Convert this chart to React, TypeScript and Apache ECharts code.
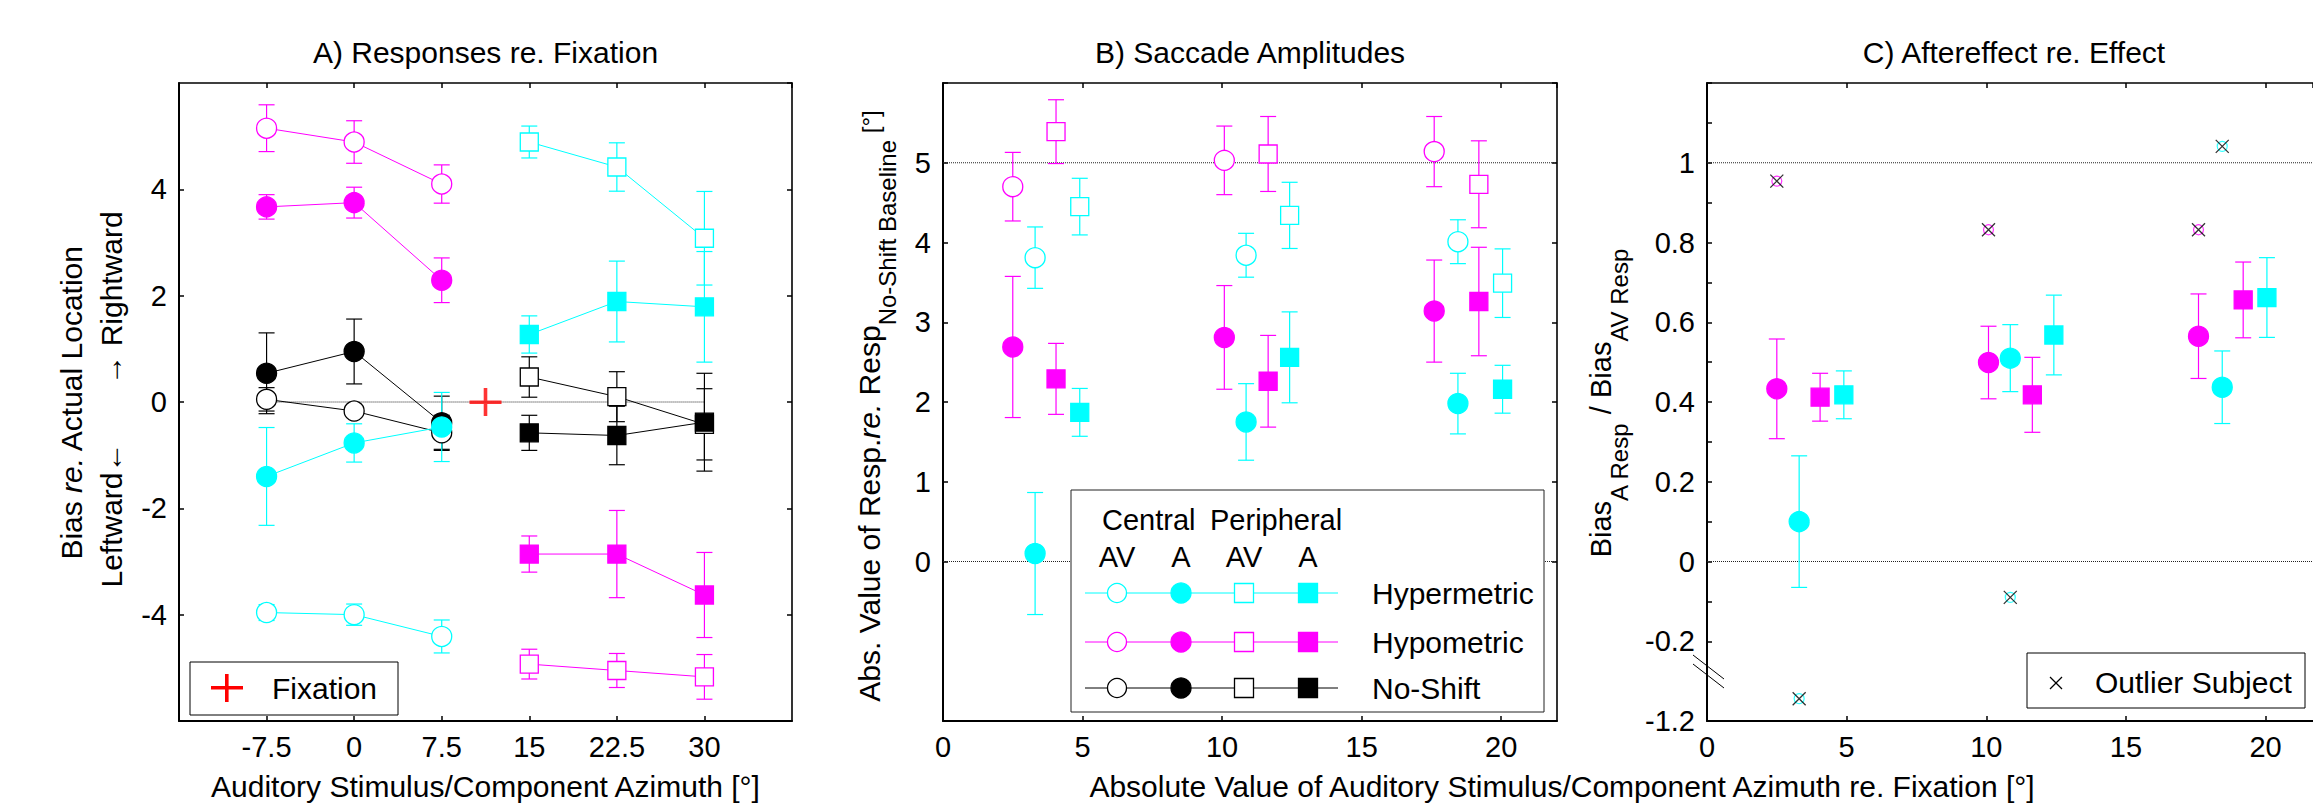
import React, { useEffect, useRef } from "react";
import * as echarts from "echarts";

const FONT = '"Liberation Sans", Arial, sans-serif';
const CYAN = "#00ffff";
const MAGENTA = "#ff00ff";
const BLACK = "#000000";
const RED = "#ff0000";

// ---------- Panel A: responses re. fixation ----------
const centralAz = [-7.5, 0, 7.5];
const peripheralAz = [15, 22.5, 30];
const fixationPoint = [11.25, 0];
const zeroLineA = [-7.5, 30];

const noShiftAVCentral = [0.05, -0.17, -0.58];
const noShiftAVCentralErr = [0.22, 0.1, 0.33];
const noShiftACentral = [0.54, 0.95, -0.39];
const noShiftACentralErr = [0.76, 0.61, 0.5];
const noShiftAVPeriph = [0.47, 0.1, -0.42];
const noShiftAVPeriphErr = [0.38, 0.47, 0.67];
const noShiftAPeriph = [-0.58, -0.63, -0.38];
const noShiftAPeriphErr = [0.33, 0.55, 0.92];

const hyperAVCentral = [-3.96, -4.0, -4.41];
const hyperAVCentralErr = [0.15, 0.2, 0.31];
const hyperACentral = [-1.4, -0.77, -0.47];
const hyperACentralErr = [0.92, 0.36, 0.65];
const hyperAVPeriph = [4.89, 4.42, 3.08];
const hyperAVPeriphErr = [0.3, 0.455, 0.88];
const hyperAPeriph = [1.27, 1.89, 1.79];
const hyperAPeriphErr = [0.35, 0.76, 1.04];

const hypoAVCentral = [5.15, 4.89, 4.1];
const hypoAVCentralErr = [0.44, 0.4, 0.36];
const hypoACentral = [3.67, 3.75, 2.29];
const hypoACentralErr = [0.23, 0.29, 0.42];
const hypoAVPeriph = [-4.93, -5.05, -5.17];
const hypoAVPeriphErr = [0.28, 0.32, 0.42];
const hypoAPeriph = [-2.86, -2.86, -3.63];
const hypoAPeriphErr = [0.34, 0.82, 0.8];

// ---------- Panels B & C: x positions (abs. azimuth re. fixation) ----------
const hypoCentralX = [2.5, 10.08, 17.6];
const hyperCentralX = [3.3, 10.86, 18.45];
const hypoPeriphX = [4.05, 11.65, 19.2];
const hyperPeriphX = [4.9, 12.42, 20.05];

// ---------- Panel B: saccade amplitudes ----------
const hypoAVCentralAmp = [4.7, 5.03, 5.14];
const hypoAVCentralAmpErr = [0.43, 0.43, 0.44];
const hypoACentralAmp = [2.69, 2.81, 3.14];
const hypoACentralAmpErr = [0.885, 0.65, 0.64];
const hyperAVCentralAmp = [3.81, 3.84, 4.01];
const hyperAVCentralAmpErr = [0.385, 0.275, 0.275];
const hyperACentralAmp = [0.1, 1.75, 1.98];
const hyperACentralAmpErr = [0.765, 0.48, 0.38];
const hypoAVPeriphAmp = [5.39, 5.11, 4.73];
const hypoAVPeriphAmpErr = [0.4, 0.47, 0.545];
const hypoAPeriphAmp = [2.29, 2.26, 3.26];
const hypoAPeriphAmpErr = [0.445, 0.575, 0.68];
const hyperAVPeriphAmp = [4.45, 4.34, 3.49];
const hyperAVPeriphAmpErr = [0.355, 0.415, 0.43];
const hyperAPeriphAmp = [1.87, 2.56, 2.16];
const hyperAPeriphAmpErr = [0.3, 0.57, 0.3];
const refLinesB = [5, 0];

// ---------- Panel C: aftereffect re. effect ----------
const hypoCentralRatio = [0.433, 0.499, 0.565];
const hypoCentralRatioErr = [0.125, 0.091, 0.106];
const hyperCentralRatio = [0.1, 0.51, 0.437];
const hyperCentralRatioErr = [0.165, 0.084, 0.091];
const hypoPeriphRatio = [0.412, 0.418, 0.656];
const hypoPeriphRatioErr = [0.06, 0.094, 0.095];
const hyperPeriphRatio = [0.418, 0.568, 0.662];
const hyperPeriphRatioErr = [0.06, 0.1, 0.1];
const hypoOutlier = [0.954, 0.832, 0.832];
const hyperOutlier = [-1.144, -0.09, 1.041];
const refLinesC = [1, 0];
// axis break: values below BREAK_AT are shifted up by BREAK_OFFSET
const BREAK_AT = -0.5;
const BREAK_OFFSET = 0.8;
const brk = (v: number) => (v < BREAK_AT ? v + BREAK_OFFSET : v);

// ---------- text labels ----------
const titleA = "A) Responses re. Fixation";
const titleB = "B) Saccade Amplitudes";
const titleC = "C) Aftereffect re. Effect";
const xNameA = "Auditory Stimulus/Component Azimuth [°]";
const xNameBC = "Absolute Value of Auditory Stimulus/Component Azimuth re. Fixation [°]";

// ---------- layout ----------
const GA = { left: 179, top: 83, width: 613, height: 638 };
const GB = { left: 943, top: 83, width: 614, height: 638 };
// panel C runs past the right edge of the picture: only 0..21.7 is visible
const GC = { left: 1707, top: 83, width: 606, height: 638 };
const C_X_MAX = 21.7;

const ctx = document.createElement("canvas").getContext("2d")!;
function tw(text: string, size: number, italic = false) {
  ctx.font = `${italic ? "italic " : ""}${size}px "Liberation Sans"`;
  return ctx.measureText(text).width;
}

function txt(x: number, y: number, text: string, size: number, align = "center", extra: any = {}) {
  return {
    type: "text",
    x,
    y,
    z: 100,
    silent: true,
    style: {
      text,
      fill: "#000",
      fontSize: size,
      fontFamily: FONT,
      fontStyle: extra.italic ? "italic" : "normal",
      align,
      textAlign: align,
      verticalAlign: "middle",
      textVerticalAlign: "middle",
    },
  };
}

type Seg = { text: string; size: number; italic?: boolean; shift?: number };
function rotatedLabel(cx: number, cy: number, segs: Seg[]) {
  const widths = segs.map((s) => tw(s.text, s.size, !!s.italic));
  const total = widths.reduce((a, b) => a + b, 0);
  let pos = -total / 2;
  const children = segs.map((s, i) => {
    const el = {
      type: "text",
      x: pos,
      y: s.shift || 0,
      style: {
        text: s.text,
        fill: "#000",
        fontSize: s.size,
        fontFamily: FONT,
        fontStyle: s.italic ? "italic" : "normal",
        align: "left",
        textAlign: "left",
        verticalAlign: "middle",
        textVerticalAlign: "middle",
      },
    };
    pos += widths[i];
    return el;
  });
  return { type: "group", x: cx, y: cy, rotation: Math.PI / 2, z: 100, silent: true, children };
}

const axisLabelStyle = { color: "#000", fontSize: 29, fontFamily: FONT };

function xAxes(gi: number, min: number, max: number, interval: number, labelOpts: any) {
  const common = {
    type: "value",
    gridIndex: gi,
    min,
    max,
    interval,
    splitLine: { show: false },
    axisLine: { show: true, onZero: false, lineStyle: { color: "#000", width: 2 } },
    axisTick: { show: true, inside: true, length: 5, lineStyle: { color: "#000", width: 1.5 } },
  };
  return [
    { ...common, position: "bottom", axisLabel: { ...axisLabelStyle, margin: 11, ...labelOpts } },
    { ...common, position: "top", axisLabel: { show: false }, axisLine: { show: true, onZero: false, lineStyle: { color: "#000", width: 1.6 } } },
  ];
}
function yAxes(gi: number, min: number, max: number, interval: number, labelOpts: any, tickOpts: any = {}, showRight = true) {
  const common = {
    type: "value",
    gridIndex: gi,
    min,
    max,
    interval,
    splitLine: { show: false },
    axisLine: { show: true, onZero: false, lineStyle: { color: "#000", width: 2 } },
    axisTick: { show: true, inside: true, length: 5, lineStyle: { color: "#000", width: 1.5 }, ...tickOpts },
  };
  return [
    { ...common, position: "left", axisLabel: { ...axisLabelStyle, margin: 12, ...labelOpts } },
    {
      ...common,
      position: "right",
      axisLabel: { show: false },
      axisLine: { show: showRight, onZero: false, lineStyle: { color: "#000", width: 1.6 } },
      axisTick: showRight ? common.axisTick : { show: false },
    },
  ];
}

function markerStyle(color: string, filled: boolean) {
  return { color: filled ? color : "#ffffff", borderColor: color, borderWidth: 1.3, opacity: 1 };
}

function lineSeries(gi: number, xs: number[], ys: number[], color: string, symbol: string, filled: boolean) {
  return {
    type: "line",
    xAxisIndex: gi * 2,
    yAxisIndex: gi * 2,
    data: xs.map((x, i) => [x, ys[i]]),
    symbol,
    symbolSize: symbol === "rect" ? 18 : 20,
    showSymbol: true,
    itemStyle: markerStyle(color, filled),
    lineStyle: { color, width: 1 },
    silent: true,
    z: 4,
  };
}

function scatterSeries(gi: number, xs: number[], ys: number[], color: string, symbol: string, filled: boolean) {
  return {
    type: "scatter",
    xAxisIndex: gi * 2,
    yAxisIndex: gi * 2,
    data: xs.map((x, i) => [x, ys[i]]),
    symbol,
    symbolSize: symbol === "rect" ? 18 : 20,
    itemStyle: markerStyle(color, filled),
    silent: true,
    z: 4,
  };
}

function errSeries(gi: number, xs: number[], ys: number[], es: number[], color: string) {
  return {
    type: "custom",
    xAxisIndex: gi * 2,
    yAxisIndex: gi * 2,
    data: xs.map((x, i) => [x, ys[i], es[i]]),
    encode: { x: 0, y: 1 },
    silent: true,
    z: 3,
    renderItem: (_p: any, api: any) => {
      const x = api.value(0);
      const y = api.value(1);
      const e = api.value(2);
      const t = api.coord([x, y + e]);
      const b = api.coord([x, y - e]);
      const hw = 8;
      const st = { stroke: color, lineWidth: 1.2 };
      return {
        type: "group",
        children: [
          { type: "line", shape: { x1: t[0], y1: t[1], x2: b[0], y2: b[1] }, style: st },
          { type: "line", shape: { x1: t[0] - hw, y1: t[1], x2: t[0] + hw, y2: t[1] }, style: st },
          { type: "line", shape: { x1: b[0] - hw, y1: b[1], x2: b[0] + hw, y2: b[1] }, style: st },
        ],
      };
    },
  };
}

function refLine(gi: number, x0: number, x1: number, y: number) {
  return {
    type: "line",
    xAxisIndex: gi * 2,
    yAxisIndex: gi * 2,
    data: [
      [x0, y],
      [x1, y],
    ],
    symbol: "none",
    lineStyle: { color: "#222", width: 1, type: [1, 1] },
    silent: true,
    z: 1,
  };
}

function buildOption() {
  const series: any[] = [];
  // Panel A
  series.push(refLine(0, zeroLineA[0], zeroLineA[1], 0));
  const groupsA: [number[], number[], number[], string, string, boolean][] = [
    [centralAz, noShiftACentral, noShiftACentralErr, BLACK, "circle", true],
    [centralAz, noShiftAVCentral, noShiftAVCentralErr, BLACK, "circle", false],
    [peripheralAz, noShiftAVPeriph, noShiftAVPeriphErr, BLACK, "rect", false],
    [peripheralAz, noShiftAPeriph, noShiftAPeriphErr, BLACK, "rect", true],
    [centralAz, hyperAVCentral, hyperAVCentralErr, CYAN, "circle", false],
    [centralAz, hyperACentral, hyperACentralErr, CYAN, "circle", true],
    [peripheralAz, hyperAVPeriph, hyperAVPeriphErr, CYAN, "rect", false],
    [peripheralAz, hyperAPeriph, hyperAPeriphErr, CYAN, "rect", true],
    [centralAz, hypoAVCentral, hypoAVCentralErr, MAGENTA, "circle", false],
    [centralAz, hypoACentral, hypoACentralErr, MAGENTA, "circle", true],
    [peripheralAz, hypoAVPeriph, hypoAVPeriphErr, MAGENTA, "rect", false],
    [peripheralAz, hypoAPeriph, hypoAPeriphErr, MAGENTA, "rect", true],
  ];
  groupsA.forEach(([xs, ys, es, c, s, f]) => {
    series.push(errSeries(0, xs, ys, es, c));
    series.push(lineSeries(0, xs, ys, c, s, f));
  });
  series.push({
    type: "scatter",
    xAxisIndex: 0,
    yAxisIndex: 0,
    data: [fixationPoint],
    symbol: "path://M0,12.5h32v3.5h-32z M14.2,0h3.6v28h-3.6z",
    symbolSize: [32, 28],
    itemStyle: { color: RED },
    silent: true,
    z: 5,
  });

  // Panel B
  refLinesB.forEach((v) => series.push(refLine(1, 0, 22, v)));
  const groupsB: [number[], number[], number[], string, string, boolean][] = [
    [hypoCentralX, hypoAVCentralAmp, hypoAVCentralAmpErr, MAGENTA, "circle", false],
    [hypoCentralX, hypoACentralAmp, hypoACentralAmpErr, MAGENTA, "circle", true],
    [hyperCentralX, hyperAVCentralAmp, hyperAVCentralAmpErr, CYAN, "circle", false],
    [hyperCentralX, hyperACentralAmp, hyperACentralAmpErr, CYAN, "circle", true],
    [hypoPeriphX, hypoAVPeriphAmp, hypoAVPeriphAmpErr, MAGENTA, "rect", false],
    [hypoPeriphX, hypoAPeriphAmp, hypoAPeriphAmpErr, MAGENTA, "rect", true],
    [hyperPeriphX, hyperAVPeriphAmp, hyperAVPeriphAmpErr, CYAN, "rect", false],
    [hyperPeriphX, hyperAPeriphAmp, hyperAPeriphAmpErr, CYAN, "rect", true],
  ];
  groupsB.forEach(([xs, ys, es, c, s, f]) => {
    series.push(errSeries(1, xs, ys, es, c));
    series.push(scatterSeries(1, xs, ys, c, s, f));
  });

  // Panel C
  refLinesC.forEach((v) => series.push(refLine(2, 0, C_X_MAX, v)));
  const groupsC: [number[], number[], number[], string, string][] = [
    [hypoCentralX, hypoCentralRatio, hypoCentralRatioErr, MAGENTA, "circle"],
    [hyperCentralX, hyperCentralRatio, hyperCentralRatioErr, CYAN, "circle"],
    [hypoPeriphX, hypoPeriphRatio, hypoPeriphRatioErr, MAGENTA, "rect"],
    [hyperPeriphX, hyperPeriphRatio, hyperPeriphRatioErr, CYAN, "rect"],
  ];
  groupsC.forEach(([xs, ys, es, c, s]) => {
    series.push(errSeries(2, xs, ys, es, c));
    series.push(scatterSeries(2, xs, ys, c, s, true));
  });
  const outliers: [number[], number[], string][] = [
    [hypoCentralX, hypoOutlier, MAGENTA],
    [hyperCentralX, hyperOutlier, CYAN],
  ];
  outliers.forEach(([xs, ys, c]) => {
    const data = xs.map((x, i) => [x, brk(ys[i])]);
    series.push({
      type: "scatter",
      xAxisIndex: 4,
      yAxisIndex: 4,
      data,
      symbol: "circle",
      symbolSize: 10,
      itemStyle: { color: "rgba(0,0,0,0)", borderColor: c, borderWidth: 1.2 },
      silent: true,
      z: 5,
    });
    series.push({
      type: "scatter",
      xAxisIndex: 4,
      yAxisIndex: 4,
      data,
      symbol: "path://M0,0L10,10M10,0L0,10",
      symbolSize: 13,
      itemStyle: { color: "rgba(0,0,0,0)", borderColor: "#000", borderWidth: 1.3 },
      silent: true,
      z: 6,
    });
  });

  const yTicksC: number[] = [-0.4, -0.2, -0.1, 0, 0.1, 0.2, 0.3, 0.4, 0.5, 0.6, 0.7, 0.8, 0.9, 1.0, 1.1, 1.2];

  const xAxis = [
    ...xAxes(0, -15, 37.5, 7.5, { showMinLabel: false, showMaxLabel: false }),
    ...xAxes(1, 0, 22, 5, { showMaxLabel: false }),
    ...xAxes(2, 0, C_X_MAX, 5, { showMaxLabel: false }),
  ];
  const yAxis = [
    ...yAxes(0, -6, 6, 2, { showMinLabel: false, showMaxLabel: false }),
    ...yAxes(
      1,
      -2,
      6,
      1,
      { formatter: (v: number) => (v >= 0 && v <= 5 ? String(v) : "") },
      { customValues: [-2, 0, 1, 2, 3, 4, 5, 6] }
    ),
    ...yAxes(
      2,
      -0.4,
      1.2,
      0.1,
      {
        formatter: (v: number) => {
          const r = Math.round(v * 10) / 10;
          if (r < -0.35) return (r - BREAK_OFFSET).toFixed(1);
          if (Math.abs(Math.round(r * 10)) % 2 === 0 && r < 1.05) return String(r);
          return "";
        },
      },
      { customValues: yTicksC },
      false
    ),
  ];

  // ----- graphic: titles, axis names, legends -----
  const g: any[] = [];
  g.push(txt(GA.left + GA.width / 2, 52, titleA, 30));
  g.push(txt(GB.left + GB.width / 2, 52, titleB, 30));
  g.push(txt(2014, 52, titleC, 30));
  g.push(txt(GA.left + GA.width / 2, 786, xNameA, 30));
  g.push(txt(1562, 786, xNameBC, 30));

  // y label A
  g.push(
    rotatedLabel(71, 402, [
      { text: "Bias ", size: 30 },
      { text: "re.", size: 30, italic: true },
      { text: " Actual Location", size: 30 },
    ])
  );
  g.push(rotatedLabel(111, 515, [{ text: "Leftward\u2190", size: 30 }]));
  g.push(rotatedLabel(111, 298, [{ text: "\u2192 Rightward", size: 30 }]));

  // y label B
  g.push(
    rotatedLabel(869, 406, [
      { text: "Abs. Value of Resp.", size: 30 },
      { text: "re.", size: 30, italic: true },
      { text: " Resp", size: 30 },
      { text: "No-Shift Baseline", size: 24, shift: 18 },
      { text: " [°]", size: 24, shift: 1 },
    ])
  );

  // y label C
  g.push(
    rotatedLabel(1601, 403, [
      { text: "Bias", size: 29 },
      { text: "A Resp", size: 24, shift: 18 },
      { text: " / ", size: 29 },
      { text: "Bias", size: 29 },
      { text: "AV Resp", size: 24, shift: 18 },
    ])
  );

  // axis break marks (panel C)
  g.push({ type: "line", z: 100, silent: true, shape: { x1: 1693, y1: 655, x2: 1724, y2: 679 }, style: { stroke: "#000", lineWidth: 1 } });
  g.push({ type: "line", z: 100, silent: true, shape: { x1: 1693, y1: 664, x2: 1724, y2: 688 }, style: { stroke: "#000", lineWidth: 1 } });

  // legend A
  g.push({ type: "rect", z: 90, silent: true, shape: { x: 190, y: 662, width: 208, height: 53 }, style: { fill: "#fff", stroke: "#000", lineWidth: 1 } });
  g.push({ type: "rect", z: 91, silent: true, shape: { x: 211, y: 686, width: 32, height: 3.5 }, style: { fill: RED } });
  g.push({ type: "rect", z: 91, silent: true, shape: { x: 225, y: 674, width: 3.6, height: 28 }, style: { fill: RED } });
  g.push(txt(272, 688, "Fixation", 30, "left"));

  // legend B
  g.push({ type: "rect", z: 90, silent: true, shape: { x: 1071, y: 490, width: 473, height: 222 }, style: { fill: "#fff", stroke: "#222", lineWidth: 1 } });
  g.push(txt(1102, 520, "Central", 29, "left"));
  g.push(txt(1210, 520, "Peripheral", 29, "left"));
  const colX = [1117, 1181, 1244, 1308];
  ["AV", "A", "AV", "A"].forEach((t, i) => g.push(txt(colX[i], 557, t, 29)));
  const rows: [number, string, string][] = [
    [593, CYAN, "Hypermetric"],
    [642, MAGENTA, "Hypometric"],
    [688, BLACK, "No-Shift"],
  ];
  rows.forEach(([y, c, label]) => {
    g.push({ type: "line", z: 91, silent: true, shape: { x1: 1085, y1: y, x2: 1338, y2: y }, style: { stroke: c, lineWidth: 1 } });
    g.push({ type: "circle", z: 92, silent: true, shape: { cx: colX[0], cy: y, r: 9.5 }, style: { fill: "#fff", stroke: c, lineWidth: 1.3 } });
    g.push({ type: "circle", z: 92, silent: true, shape: { cx: colX[1], cy: y, r: 10 }, style: { fill: c, stroke: c, lineWidth: 1.3 } });
    g.push({ type: "rect", z: 92, silent: true, shape: { x: colX[2] - 9.5, y: y - 9.5, width: 19, height: 19 }, style: { fill: "#fff", stroke: c, lineWidth: 1.3 } });
    g.push({ type: "rect", z: 92, silent: true, shape: { x: colX[3] - 9.5, y: y - 9.5, width: 19, height: 19 }, style: { fill: c, stroke: c, lineWidth: 1.3 } });
    g.push(txt(1372, y, label, 30, "left"));
  });

  // legend C
  g.push({ type: "rect", z: 90, silent: true, shape: { x: 2027, y: 653, width: 278, height: 55 }, style: { fill: "#fff", stroke: "#000", lineWidth: 1 } });
  g.push({ type: "line", z: 91, silent: true, shape: { x1: 2050, y1: 677, x2: 2062, y2: 689 }, style: { stroke: "#000", lineWidth: 1.2 } });
  g.push({ type: "line", z: 91, silent: true, shape: { x1: 2062, y1: 677, x2: 2050, y2: 689 }, style: { stroke: "#000", lineWidth: 1.2 } });
  g.push(txt(2095, 682, "Outlier Subject", 30, "left"));

  return {
    animation: false,
    backgroundColor: "#fff",
    grid: [
      { ...GA, containLabel: false },
      { ...GB, containLabel: false },
      { ...GC, containLabel: false },
    ],
    xAxis,
    yAxis,
    series,
    graphic: { elements: g },
  };
}

export default function App() {
  const ref = useRef<HTMLDivElement>(null);
  useEffect(() => {
    document.body.style.margin = "0";
    document.body.style.overflow = "hidden";
    const chart = echarts.init(ref.current!, null, { renderer: "svg" });
    chart.setOption(buildOption() as any);
    return () => chart.dispose();
  }, []);
  return <div ref={ref} style={{ width: 2313, height: 806, background: "#fff" }} />;
}
